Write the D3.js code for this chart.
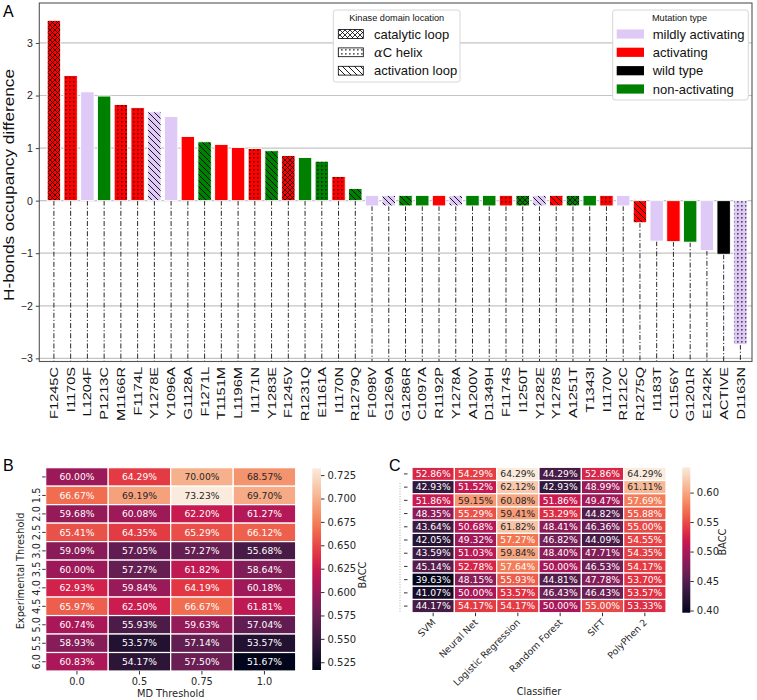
<!DOCTYPE html>
<html><head><meta charset="utf-8">
<script src="https://cdn.jsdelivr.net/npm/d3@7"></script>
<style>body{margin:0;background:#fff} svg{display:block}</style>
</head><body>
<svg id="chart" width="757" height="700"></svg>
<script>
// ---------------- Panel A data ----------------
const categories = ["F1245C","I1170S","L1204F","P1213C","M1166R","F1174L","Y1278E","Y1096A","G1128A","F1271L",
  "T1151M","L1196M","I1171N","Y1283E","F1245V","R1231Q","E1161A","I1170N","R1279Q","F1098V",
  "G1269A","G1286R","C1097A","R1192P","Y1278A","A1200V","D1349H","F1174S","I1250T","Y1282E",
  "Y1278S","A1251T","T1343I","I1170V","R1212C","R1275Q","I1183T","C1156Y","G1201R","E1242K",
  "ACTIVE","D1163N"];
const values = [3.43,2.38,2.07,1.99,1.83,1.77,1.69,1.60,1.22,1.12,
  1.07,1.01,0.99,0.95,0.86,0.82,0.75,0.46,0.23,0,
  0,0,0,0,0,0,0,0,0,0,
  0,0,0,0,0,-0.42,-0.77,-0.78,-0.79,-0.95,
  -1.02,-2.74];
// m = mildly activating, a = activating, w = wild type, n = non-activating
const mutationTypes = ["a","a","m","n","a","a","m","m","a","n",
  "a","a","a","n","a","n","n","a","n","m",
  "m","n","n","a","m","n","n","a","n","m",
  "a","n","n","a","m","a","m","a","n","m",
  "w","m"];
// c = catalytic loop, h = alphaC helix, l = activation loop, "" = none
const domainLocations = ["c","h","","","h","h","l","","","l",
  "","","h","l","c","","h","h","l","",
  "l","l","","","l","","","h","c","l",
  "l","c","","h","","l","","","","",
  "","h"];
const yTicksA = [-3,-2,-1,0,1,2,3];
const mutationKeys = ["m","a","w","n"];
const mutationNames = ["mildly activating","activating","wild type","non-activating"];
const locationKeys = ["c","h","l"];
const locationNames = ["catalytic loop","C helix","activation loop"];

// ---------------- Panel B data ----------------
const mdThresholds = ["0.0","0.5","0.75","1.0"];
const expThresholds = ["1.0","1.5","2.0","2.5","3.0","3.5","4.0","4.5","5.0","5.5","6.0"];
const expLabelsShown = ["","1.5","2.0","2.5","3.0","3.5","4.0","4.5","5.0","5.5","6.0"];
const baccB = [
  [60.00,64.29,70.00,68.57],
  [66.67,69.19,73.23,69.70],
  [59.68,60.08,62.20,61.27],
  [65.41,64.35,65.29,66.12],
  [59.09,57.05,57.27,55.68],
  [60.00,57.27,61.82,58.64],
  [62.93,59.84,64.19,60.18],
  [65.97,62.50,66.67,61.81],
  [60.74,55.93,59.63,57.04],
  [58.93,53.57,57.14,53.57],
  [60.83,54.17,57.50,51.67]];
const cbTicksB = [0.525,0.550,0.575,0.600,0.625,0.650,0.675,0.700,0.725];

// ---------------- Panel C data ----------------
const classifiers = ["SVM","Neural Net","Logistic Regression","Random Forest","SIFT","PolyPhen 2"];
const rowsC = ["r1","r2","r3","r4","r5","r6","r7","r8","r9","r10","r11"];
const baccC = [
  [52.86,54.29,64.29,44.29,52.86,64.29],
  [42.93,51.52,62.12,42.93,48.99,61.11],
  [51.86,59.15,60.08,51.86,49.47,57.69],
  [48.35,55.29,59.41,53.29,44.82,55.88],
  [43.64,50.68,61.82,48.41,46.36,55.00],
  [42.05,49.32,57.27,46.82,44.09,54.55],
  [43.59,51.03,59.84,48.40,47.71,54.35],
  [45.14,52.78,57.64,50.00,46.53,54.17],
  [39.63,48.15,55.93,44.81,47.78,53.70],
  [41.07,50.00,53.57,46.43,46.43,53.57],
  [44.17,54.17,54.17,50.00,55.00,53.33]];
const cbTicksC = [0.40,0.45,0.50,0.55,0.60];

// ---------------- styles ----------------
const mutationColors = {m:"#dfcaf7", a:"#ff0000", w:"#000000", n:"#008000"};
const patternIds = {c:"pat-cross", h:"pat-dots", l:"pat-diag"};
const SANS = "'Liberation Sans', Arial, Helvetica, sans-serif";
const DEJAVU = "'DejaVu Sans', sans-serif";

const svg = d3.select("#chart");
const defs = svg.append("defs");

// hatch patterns
(function(){
  const pc = defs.append("pattern").attr("id","pat-cross").attr("patternUnits","userSpaceOnUse").attr("width",5).attr("height",5);
  pc.append("path").attr("d","M0,0L5,5M0,5L5,0").attr("stroke","#000").attr("stroke-width",0.8).attr("fill","none");
  const pd = defs.append("pattern").attr("id","pat-dots").attr("patternUnits","userSpaceOnUse").attr("width",4).attr("height",4);
  pd.append("rect").attr("x",1.2).attr("y",1.2).attr("width",1.3).attr("height",1.3).attr("fill","#000");
  const pl = defs.append("pattern").attr("id","pat-diag").attr("patternUnits","userSpaceOnUse").attr("width",6).attr("height",6);
  pl.append("path").attr("d","M0,0L6,6M-1,5L1,7M5,-1L7,1").attr("stroke","#000").attr("stroke-width",0.9).attr("fill","none");
})();

// ================= PANEL A =================
const A = {left:39.3, right:752, top:3, bottom:361.5};
const x = d3.scaleBand().domain(categories).range([47.2, 747.1]).paddingInner(0.2).paddingOuter(0);
const y = d3.scaleLinear().domain([-3.06, 3.76]).range([A.bottom, A.top]);
const zeroHalf = 0.1;

const gA = svg.append("g");
gA.append("g").selectAll("line").data(yTicksA).join("line")
  .attr("x1",A.left).attr("x2",A.right).attr("y1",d=>y(d)).attr("y2",d=>y(d))
  .attr("stroke","#c4c4c4").attr("stroke-width",1.2);

const barData = categories.map((c,i)=>{
  const v = values[i];
  const lo = v===0 ? -zeroHalf : Math.min(0,v);
  const hi = v===0 ? zeroHalf : Math.max(0,v);
  return {c, v, lo, hi, mt: mutationTypes[i], loc: domainLocations[i]};
});

// dash-dot drop lines
gA.append("g").selectAll("line").data(barData).join("line")
  .attr("x1",d=>x(d.c)+x.bandwidth()/2).attr("x2",d=>x(d.c)+x.bandwidth()/2)
  .attr("y1",d=>y(d.lo)).attr("y2",A.bottom)
  .attr("stroke","#111").attr("stroke-width",0.9).attr("stroke-dasharray","5,2,1.2,2");

const bars = gA.append("g").selectAll("g").data(barData).join("g");
bars.append("rect").attr("x",d=>x(d.c)).attr("width",x.bandwidth())
  .attr("y",d=>y(d.hi)).attr("height",d=>y(d.lo)-y(d.hi))
  .attr("fill",d=>mutationColors[d.mt]);
bars.filter(d=>d.loc).append("rect").attr("x",d=>x(d.c)).attr("width",x.bandwidth())
  .attr("y",d=>y(d.hi)).attr("height",d=>y(d.lo)-y(d.hi))
  .attr("fill",d=>`url(#${patternIds[d.loc]})`);
bars.append("rect").attr("x",d=>x(d.c)).attr("width",x.bandwidth())
  .attr("y",d=>y(d.hi)).attr("height",d=>y(d.lo)-y(d.hi))
  .attr("fill","none").attr("stroke","#fff").attr("stroke-width",0.9);

// frame
gA.append("rect").attr("x",A.left).attr("y",A.top).attr("width",A.right-A.left).attr("height",A.bottom-A.top)
  .attr("fill","none").attr("stroke","#555").attr("stroke-width",1.1);

// y axis
const yAxis = d3.axisLeft(y).tickValues(yTicksA).tickSize(3.5).tickPadding(3)
  .tickFormat(d=> d<0 ? "\u2212"+Math.abs(d) : String(d));
const yg = gA.append("g").attr("transform",`translate(${A.left},0)`).call(yAxis);
yg.select(".domain").remove();
yg.selectAll("text").attr("font-family",SANS).attr("font-size",10.5).attr("fill","#222");
yg.selectAll("line").attr("stroke","#444");

// y label
gA.append("text").attr("transform","translate(14,185) rotate(-90) scale(1,0.82)")
  .attr("text-anchor","middle").attr("font-family",SANS).attr("font-size",17.2).attr("fill","#111")
  .text("H-bonds occupancy difference");

// x labels
gA.append("g").selectAll("text").data(categories).join("text")
  .attr("transform",d=>`translate(${x(d)+x.bandwidth()/2},367) rotate(-90) scale(1,0.78)`)
  .attr("text-anchor","end").attr("dy","0.36em")
  .attr("font-family",SANS).attr("font-size",14.6).attr("fill","#111").text(d=>d);

// panel label
svg.append("text").attr("x",3).attr("y",17).attr("font-family",SANS).attr("font-size",16).text("A");

// Legend: Kinase domain location
(function(){
  const g = gA.append("g");
  g.append("rect").attr("x",333.3).attr("y",10).attr("width",126.7).attr("height",72).attr("rx",2.5)
    .attr("fill","#fff").attr("stroke","#d6d6d6");
  g.append("text").attr("x",396.7).attr("y",21).attr("text-anchor","middle").attr("font-family",SANS)
    .attr("font-size",9.2).attr("fill","#111").text("Kinase domain location");
  const rowY = [34,52.3,70.7];
  locationKeys.forEach((k,i)=>{
    g.append("rect").attr("x",338.3).attr("y",rowY[i]-4.4).attr("width",25).attr("height",8.8).attr("fill","#fff");
    g.append("rect").attr("x",338.3).attr("y",rowY[i]-4.4).attr("width",25).attr("height",8.8)
      .attr("fill",`url(#${patternIds[k]})`).attr("stroke","#000").attr("stroke-width",0.8);
    const t = g.append("text").attr("x",374).attr("y",rowY[i]).attr("dy","0.35em").attr("font-family",SANS)
      .attr("font-size",13).attr("fill","#111");
    if (k==="h") {
      t.append("tspan").attr("font-family","'DejaVu Serif', serif").attr("font-style","italic").text("\u03B1");
      t.append("tspan").text(locationNames[i]);
    } else t.text(locationNames[i]);
  });
})();
// Legend: Mutation type
(function(){
  const g = gA.append("g");
  g.append("rect").attr("x",612.7).attr("y",10).attr("width",135.6).attr("height",90).attr("rx",2.5)
    .attr("fill","#fff").attr("stroke","#d6d6d6");
  g.append("text").attr("x",679.5).attr("y",21).attr("text-anchor","middle").attr("font-family",SANS)
    .attr("font-size",9.2).attr("fill","#111").text("Mutation type");
  const rowY = [34,52.3,70.7,89];
  mutationKeys.forEach((k,i)=>{
    g.append("rect").attr("x",616.7).attr("y",rowY[i]-4.6).attr("width",27.3).attr("height",9.2)
      .attr("fill",mutationColors[k]);
    g.append("text").attr("x",652.7).attr("y",rowY[i]).attr("dy","0.35em").attr("font-family",SANS)
      .attr("font-size",13).attr("fill","#111").text(mutationNames[i]);
  });
})();

// ================= heatmap helpers =================
const rocketStops = ["#03051a","#35193e","#701f57","#ad1759","#cb1b4f","#e13342","#f37651","#f6b48f","#faebdd"];
const rocketPos = [0,1/7,2/7,3/7,0.5,4/7,5/7,6/7,1];
const rocket = d3.scaleLinear().domain(rocketPos).range(rocketStops).interpolate(d3.interpolateRgb).clamp(true);
function lum(col){
  const c = d3.rgb(col);
  const f = v=>{v/=255; return v<=0.03928 ? v/12.92 : Math.pow((v+0.055)/1.055,2.4);};
  return 0.2126*f(c.r)+0.7152*f(c.g)+0.0722*f(c.b);
}
function colorbar(id, x0, y0, w, h, vmin, vmax, ticks, fmt, labelX, labelY){
  const grad = defs.append("linearGradient").attr("id",id).attr("x1",0).attr("y1",1).attr("x2",0).attr("y2",0);
  d3.range(0,1.0001,0.05).forEach(t=>grad.append("stop").attr("offset",t).attr("stop-color",rocket(t)));
  svg.append("rect").attr("x",x0).attr("y",y0).attr("width",w).attr("height",h).attr("fill",`url(#${id})`);
  const s = d3.scaleLinear().domain([vmin,vmax]).range([y0+h,y0]);
  const ax = d3.axisRight(s).tickValues(ticks).tickSize(3.5).tickPadding(3).tickFormat(fmt);
  const g = svg.append("g").attr("transform",`translate(${x0+w},0)`).call(ax);
  g.select(".domain").remove();
  g.selectAll("text").attr("font-family",DEJAVU).attr("font-size",10).attr("fill","#262626");
  g.selectAll("line").attr("stroke","#333");
  svg.append("text").attr("transform",`translate(${labelX},${labelY}) rotate(-90)`).attr("text-anchor","middle")
    .attr("font-family",DEJAVU).attr("font-size",9.8).attr("fill","#262626").text("BACC");
}

// ================= PANEL B =================
(function(){
  const xB = d3.scaleBand().domain(mdThresholds).range([45.7,295.7]);
  const yB = d3.scaleBand().domain(expThresholds).range([467.7,671]);
  const flat = baccB.flat();
  const vmin = d3.min(flat)/100, vmax = d3.max(flat)/100;
  const norm = v => (v/100 - vmin)/(vmax-vmin);
  const cells = [];
  baccB.forEach((row,r)=>row.forEach((v,c)=>cells.push({r:expThresholds[r], c:mdThresholds[c], v})));
  const g = svg.append("g");
  g.selectAll("rect").data(cells).join("rect")
    .attr("x",d=>xB(d.c)).attr("y",d=>yB(d.r)).attr("width",xB.bandwidth()).attr("height",yB.bandwidth())
    .attr("fill",d=>rocket(norm(d.v))).attr("stroke","#fff").attr("stroke-width",1.2);
  g.selectAll("text").data(cells).join("text")
    .attr("x",d=>xB(d.c)+xB.bandwidth()/2).attr("y",d=>yB(d.r)+yB.bandwidth()/2).attr("dy","0.35em")
    .attr("text-anchor","middle").attr("font-family",DEJAVU).attr("font-size",9.2)
    .attr("fill",d=>lum(rocket(norm(d.v)))>0.408 ? "#262626" : "#ffffff")
    .text(d=>d.v.toFixed(2)+"%");
  const ax = svg.append("g");
  mdThresholds.forEach(c=>{
    const cx = xB(c)+xB.bandwidth()/2;
    ax.append("line").attr("x1",cx).attr("x2",cx).attr("y1",671).attr("y2",674.5).attr("stroke","#333");
    ax.append("text").attr("x",cx).attr("y",685).attr("text-anchor","middle").attr("font-family",DEJAVU)
      .attr("font-size",9.8).attr("fill","#262626").text(c);
  });
  expThresholds.forEach((r,i)=>{
    const cy = yB(r)+yB.bandwidth()/2;
    ax.append("line").attr("x1",42.2).attr("x2",45.7).attr("y1",cy).attr("y2",cy).attr("stroke","#333");
    ax.append("text").attr("transform",`translate(39.5,${cy}) rotate(-90)`).attr("text-anchor","middle")
      .attr("font-family",DEJAVU).attr("font-size",9.8).attr("fill","#262626").text(expLabelsShown[i]);
  });
  svg.append("text").attr("x",170.7).attr("y",697).attr("text-anchor","middle").attr("font-family",DEJAVU)
    .attr("font-size",9.8).attr("fill","#262626").text("MD Threshold");
  svg.append("text").attr("transform","translate(24,571) rotate(-90)").attr("text-anchor","middle")
    .attr("font-family",DEJAVU).attr("font-size",9.8).attr("fill","#262626").text("Experimental Threshold");
  colorbar("cbB",312.3,468.3,8.7,201.7,vmin,vmax,cbTicksB,d3.format(".3f"),366,575);
  svg.append("text").attr("x",3).attr("y",471).attr("font-family",SANS).attr("font-size",16).text("B");
})();

// ================= PANEL C =================
(function(){
  const xC = d3.scaleBand().domain(classifiers).range([412,666]);
  const yC = d3.scaleBand().domain(rowsC).range([467.3,612.7]);
  const flat = baccC.flat();
  const vmin = d3.min(flat)/100, vmax = d3.max(flat)/100;
  const norm = v => (v/100 - vmin)/(vmax-vmin);
  const cells = [];
  baccC.forEach((row,r)=>row.forEach((v,c)=>cells.push({r:rowsC[r], c:classifiers[c], v})));
  const g = svg.append("g");
  g.selectAll("rect").data(cells).join("rect")
    .attr("x",d=>xC(d.c)).attr("y",d=>yC(d.r)).attr("width",xC.bandwidth()).attr("height",yC.bandwidth())
    .attr("fill",d=>rocket(norm(d.v))).attr("stroke","#fff").attr("stroke-width",1.2);
  g.selectAll("text").data(cells).join("text")
    .attr("x",d=>xC(d.c)+xC.bandwidth()/2).attr("y",d=>yC(d.r)+yC.bandwidth()/2).attr("dy","0.35em")
    .attr("text-anchor","middle").attr("font-family",DEJAVU).attr("font-size",9.2)
    .attr("fill",d=>lum(rocket(norm(d.v)))>0.408 ? "#262626" : "#ffffff")
    .text(d=>d.v.toFixed(2)+"%");
  const ax = svg.append("g");
  ax.append("line").attr("x1",400).attr("x2",400).attr("y1",483).attr("y2",612)
    .attr("stroke","#aaa").attr("stroke-width",1).attr("stroke-dasharray","1,1.6");
  rowsC.forEach(r=>{
    const cy = yC(r)+yC.bandwidth()/2;
    ax.append("line").attr("x1",404).attr("x2",407.5).attr("y1",cy).attr("y2",cy).attr("stroke","#333");
  });
  classifiers.forEach(c=>{
    const cx = xC(c)+xC.bandwidth()/2;
    ax.append("line").attr("x1",cx).attr("x2",cx).attr("y1",612.7).attr("y2",616.2).attr("stroke","#333");
    ax.append("text").attr("transform",`translate(${cx+3},${623}) rotate(-45)`).attr("text-anchor","end")
      .attr("font-family",DEJAVU).attr("font-size",9.4).attr("fill","#262626").text(c);
  });
  svg.append("text").attr("x",539).attr("y",695).attr("text-anchor","middle").attr("font-family",DEJAVU)
    .attr("font-size",9.8).attr("fill","#262626").text("Classifier");
  colorbar("cbC",682.3,467.3,8,145.4,vmin,vmax,cbTicksC,d3.format(".2f"),726,542);
  svg.append("text").attr("x",389).attr("y",471).attr("font-family",SANS).attr("font-size",16).text("C");
})();
</script>
</body></html>
